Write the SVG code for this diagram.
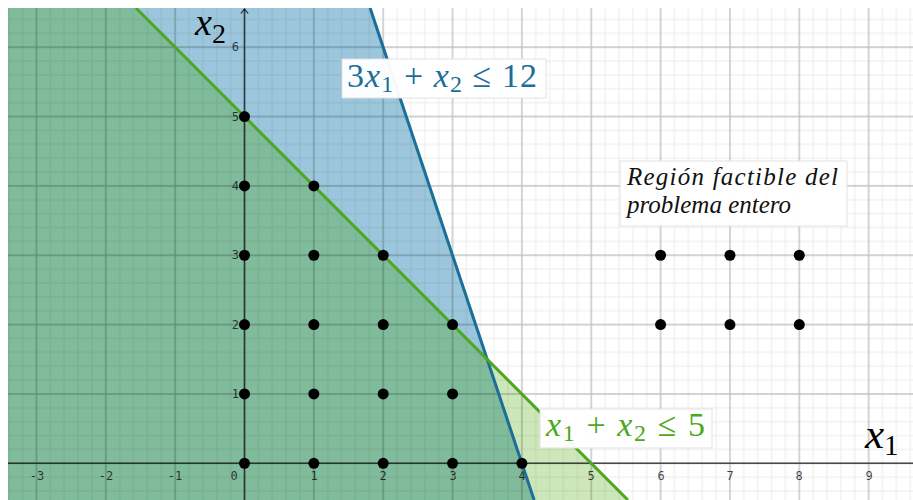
<svg xmlns="http://www.w3.org/2000/svg" width="913" height="500" viewBox="0 0 913 500">
  <style>
    .tick { font-family: "DejaVu Sans Mono", "Liberation Mono", monospace; font-size: 12px; fill: #000; fill-opacity: 0.72; }
    .xt { text-anchor: middle; }
    .yt { text-anchor: end; }
    .math { font-family: "Liberation Serif", "DejaVu Serif", serif; }
    .it { font-style: italic; }
    .dot { fill: #000; }
    .box { fill: #fff; fill-opacity: 0.96; stroke: #e2e2e2; stroke-width: 1; }
  </style>
  <defs>
    <clipPath id="plot">
      <rect x="8" y="8" width="905" height="492"/>
    </clipPath>
    <pattern id="minorGrid" patternUnits="userSpaceOnUse" x="237.565" y="456.365" width="13.87" height="13.87">
      <path d="M6.935 0V13.87M0 6.935H13.87" stroke="#000" stroke-opacity="0.075" stroke-width="1" fill="none"/>
    </pattern>
    <pattern id="majorGrid" patternUnits="userSpaceOnUse" x="209.825" y="428.625" width="69.35" height="69.35">
      <path d="M34.675 0V69.35M0 34.675H69.35" stroke="#000" stroke-opacity="0.19" stroke-width="1.4" fill="none"/>
    </pattern>
  </defs>

  <rect width="913" height="500" fill="#fff"/>

  <g id="regions" clip-path="url(#plot)">
    <polygon id="overlap" points="8,8 135.95,8 487.2,359.3 534.1,500 8,500" fill="#80bb9b"/>
    <polygon id="blue-only" points="135.95,8 370.1,8 487.2,359.3" fill="#9bc6dc"/>
    <polygon id="green-only" points="487.2,359.3 627.95,500 534.1,500" fill="#cde7ba"/>
  </g>

  <g id="grid" clip-path="url(#plot)">
    <rect x="8" y="8" width="905" height="492" fill="url(#minorGrid)"/>
    <rect x="8" y="8" width="905" height="492" fill="url(#majorGrid)"/>
  </g>

  <g id="axes" stroke="#000" stroke-opacity="0.65" stroke-width="1.5" fill="none">
    <line x1="8" y1="463.3" x2="913" y2="463.3"/>
    <line x1="244.5" y1="500" x2="244.5" y2="9"/>
    <polyline points="240.8,13.5 244.5,9 248.2,13.5" stroke-width="1.2"/>
  </g>

  <g id="tick-labels" class="tick">
    <text class="xt" x="37" y="480">-3</text>
    <text class="xt" x="106" y="480">-2</text>
    <text class="xt" x="175" y="480">-1</text>
    <text class="xt" x="234" y="480">0</text>
    <text class="xt" x="314" y="480">1</text>
    <text class="xt" x="383" y="480">2</text>
    <text class="xt" x="453" y="480">3</text>
    <text class="xt" x="522" y="480">4</text>
    <text class="xt" x="591" y="480">5</text>
    <text class="xt" x="661" y="480">6</text>
    <text class="xt" x="730" y="480">7</text>
    <text class="xt" x="799" y="480">8</text>
    <text class="xt" x="869" y="480">9</text>
    <text class="yt" x="239" y="398">1</text>
    <text class="yt" x="239" y="328.6">2</text>
    <text class="yt" x="239" y="259.2">3</text>
    <text class="yt" x="239" y="189.9">4</text>
    <text class="yt" x="239" y="120.5">5</text>
    <text class="yt" x="239" y="51.2">6</text>
  </g>

  <g id="connectors" clip-path="url(#plot)" fill="none" stroke-width="3">
    <line id="line-blue" x1="370.1" y1="8" x2="534.1" y2="500" stroke="#1b6e99"/>
    <line id="line-green" x1="135.95" y1="8" x2="627.95" y2="500" stroke="#4ea81f"/>
  </g>

  <g id="integer-points">
    <circle class="dot" cx="244.5" cy="463.3" r="5.5"/>
    <circle class="dot" cx="313.85" cy="463.3" r="5.5"/>
    <circle class="dot" cx="383.2" cy="463.3" r="5.5"/>
    <circle class="dot" cx="452.55" cy="463.3" r="5.5"/>
    <circle class="dot" cx="521.9" cy="463.3" r="5.5"/>
    <circle class="dot" cx="244.5" cy="393.95" r="5.5"/>
    <circle class="dot" cx="313.85" cy="393.95" r="5.5"/>
    <circle class="dot" cx="383.2" cy="393.95" r="5.5"/>
    <circle class="dot" cx="452.55" cy="393.95" r="5.5"/>
    <circle class="dot" cx="244.5" cy="324.6" r="5.5"/>
    <circle class="dot" cx="313.85" cy="324.6" r="5.5"/>
    <circle class="dot" cx="383.2" cy="324.6" r="5.5"/>
    <circle class="dot" cx="452.55" cy="324.6" r="5.5"/>
    <circle class="dot" cx="244.5" cy="255.25" r="5.5"/>
    <circle class="dot" cx="313.85" cy="255.25" r="5.5"/>
    <circle class="dot" cx="383.2" cy="255.25" r="5.5"/>
    <circle class="dot" cx="244.5" cy="185.9" r="5.5"/>
    <circle class="dot" cx="313.85" cy="185.9" r="5.5"/>
    <circle class="dot" cx="244.5" cy="116.55" r="5.5"/>
    <circle class="dot" cx="660.6" cy="255.25" r="5.5"/>
    <circle class="dot" cx="729.95" cy="255.25" r="5.5"/>
    <circle class="dot" cx="799.3" cy="255.25" r="5.5"/>
    <circle class="dot" cx="660.6" cy="324.6" r="5.5"/>
    <circle class="dot" cx="729.95" cy="324.6" r="5.5"/>
    <circle class="dot" cx="799.3" cy="324.6" r="5.5"/>
  </g>

  <g id="label-x2" class="math" fill="#000">
    <text x="195" y="35" font-size="38"><tspan class="it">x</tspan><tspan font-size="28" dy="8">2</tspan></text>
  </g>

  <g id="label-x1" class="math" fill="#000">
    <text x="865" y="448" font-size="43"><tspan class="it">x</tspan><tspan font-size="29" dy="7">1</tspan></text>
  </g>

  <g id="label-blue">
    <rect class="box" x="342" y="59" width="204" height="39"/>
    <text class="math" x="347" y="87" font-size="34" fill="#1b6e99" textLength="190" lengthAdjust="spacing">3<tspan class="it">x</tspan><tspan font-size="24" dy="5">1</tspan><tspan dy="-5"> + </tspan><tspan class="it">x</tspan><tspan font-size="24" dy="5">2</tspan><tspan dy="-5"> ≤ 12</tspan></text>
  </g>

  <g id="label-green">
    <rect class="box" x="540" y="409" width="172" height="39"/>
    <text class="math" x="546" y="436" font-size="34" fill="#4ea81f" textLength="159" lengthAdjust="spacing"><tspan class="it">x</tspan><tspan font-size="24" dy="5">1</tspan><tspan dy="-5"> + </tspan><tspan class="it">x</tspan><tspan font-size="24" dy="5">2</tspan><tspan dy="-5"> ≤ 5</tspan></text>
  </g>

  <g id="label-region">
    <rect class="box" x="620" y="161" width="227" height="65"/>
    <text class="math it" x="627" y="185" font-size="25" fill="#111" textLength="211" lengthAdjust="spacing">Región factible del</text>
    <text class="math it" x="627" y="213" font-size="25" fill="#111">problema entero</text>
  </g>
</svg>
